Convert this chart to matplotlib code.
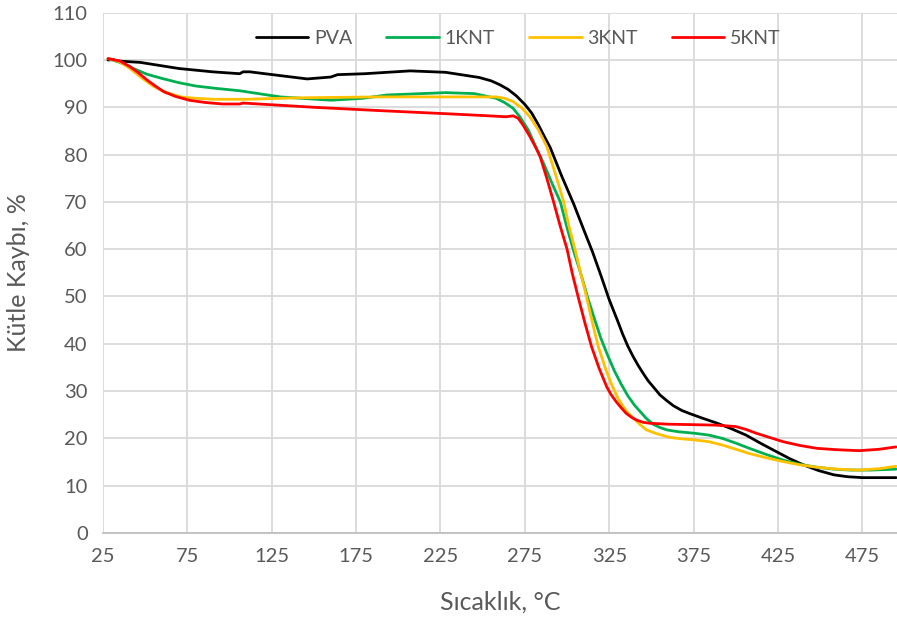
"""TGA curves of PVA and PVA/KNT films."""

import matplotlib.pyplot as plt

plt.rcParams["font.family"] = ["Lato", "DejaVu Sans"]

TEXT = "#595959"
GRID = "#D9D9D9"

# PVA
pva_t = [28, 31, 33, 47, 70, 90, 106, 108, 112, 130, 146, 160, 164, 180, 207, 228,
         248, 255, 260, 265, 270, 275, 279, 283, 287, 290, 297, 304, 310, 315, 320,
         325, 330, 333, 336, 339, 342, 345, 348, 352, 355, 359, 363, 368, 373, 380,
         389, 397, 406, 415, 424, 432, 440, 449, 458, 466, 475, 495]
pva_m = [100.0, 100.1, 99.8, 99.5, 98.2, 97.5, 97.1, 97.5, 97.5, 96.7, 96.0, 96.4,
         96.9, 97.1, 97.7, 97.4, 96.3, 95.6, 94.8, 93.8, 92.4, 90.6, 88.8, 86.3, 83.5,
         81.5, 75.3, 69.5, 64.0, 59.5, 54.5, 49.3, 44.8, 42.0, 39.5, 37.4, 35.5, 33.8,
         32.2, 30.5, 29.2, 28.0, 26.9, 25.9, 25.2, 24.3, 23.2, 22.1, 20.7, 18.9, 17.2,
         15.7, 14.4, 13.2, 12.3, 11.9, 11.7, 11.7]

# 1KNT
k1_t = [28, 35, 43, 51, 60, 70, 80, 92, 106, 130, 160, 179, 193, 228, 245, 258, 263,
        268, 272, 277, 281, 286, 291, 296, 300, 304, 308, 312, 316, 320, 324, 328,
        332, 336, 340, 343, 347, 351, 355, 359, 366, 375, 384, 392, 400, 408, 418,
        428, 438, 448, 458, 468, 480, 495]
k1_m = [100.3, 99.5, 98.2, 97.0, 96.1, 95.2, 94.5, 94.0, 93.5, 92.2, 91.5, 91.9,
        92.6, 93.1, 92.9, 91.9, 91.0, 89.8, 88.0, 85.2, 82.0, 78.2, 74.0, 70.0, 64.5,
        59.5, 55.0, 50.0, 45.5, 41.2, 37.6, 34.3, 31.5, 29.0, 27.0, 25.8, 24.2, 23.0,
        22.3, 21.8, 21.4, 21.1, 20.7, 20.0, 19.0, 17.9, 16.6, 15.4, 14.5, 13.9, 13.5,
        13.3, 13.3, 13.5]

# 3KNT
k3_t = [28, 35, 41, 48, 55, 62, 71, 80, 90, 110, 140, 189, 225, 258, 263, 268, 273,
        278, 283, 288, 293, 298, 301, 305, 308, 311.5, 315, 318.5, 323, 327, 330,
        333, 336, 339, 343, 347, 353, 361, 368, 375, 384, 392, 400, 408, 418, 428,
        438, 448, 460, 473, 485, 495]
k3_m = [100.3, 99.6, 98.2, 96.2, 94.4, 93.2, 92.2, 91.9, 91.7, 91.7, 92.0, 92.2,
        92.2, 92.2, 91.9, 91.2, 89.9, 88.0, 85.2, 81.7, 76.0, 70.0, 65.0, 59.5, 55.0,
        50.0, 44.5, 39.4, 34.5, 30.9, 28.6, 26.8, 25.4, 24.4, 23.0, 21.8, 21.0, 20.2,
        19.9, 19.7, 19.3, 18.6, 17.7, 16.8, 15.9, 15.1, 14.4, 13.9, 13.5, 13.3, 13.6,
        14.1]

# 5KNT
k5_t = [28, 35, 41, 46, 51, 56, 61, 68, 76, 86, 96, 106, 108, 150, 189, 225, 248,
        264, 268, 271, 274, 278, 281, 284, 288, 292, 296, 300, 303, 306.5, 310.5,
        314.5, 319, 323.5, 326, 329, 332, 335, 338, 341, 345, 349, 360, 375, 388,
        400, 406, 412, 420, 428, 438, 448, 460, 473, 485, 495]
k5_m = [100.3, 99.8, 98.6, 97.3, 95.8, 94.5, 93.3, 92.3, 91.5, 91.0, 90.7, 90.7,
        90.9, 90.0, 89.3, 88.7, 88.3, 88.0, 88.2, 87.7, 86.2, 83.8, 81.8, 79.6, 75.0,
        70.0, 64.8, 60.0, 55.0, 50.0, 44.5, 39.4, 34.8, 30.9, 29.3, 27.8, 26.5, 25.3,
        24.5, 23.9, 23.4, 23.2, 23.0, 22.9, 22.8, 22.5, 21.9, 21.1, 20.2, 19.3, 18.5,
        17.9, 17.6, 17.4, 17.7, 18.2]

SERIES = [
    ("PVA", pva_t, pva_m, "#000000"),
    ("1KNT", k1_t, k1_m, "#00B050"),
    ("3KNT", k3_t, k3_m, "#FFC000"),
    ("5KNT", k5_t, k5_m, "#FF0000"),
]

x_ticks = [25, 75, 125, 175, 225, 275, 325, 375, 425, 475]
y_ticks = list(range(0, 111, 10))

fig = plt.figure(figsize=(8.97, 6.26), dpi=100)
ax = fig.add_axes([0.1148, 0.1486, 0.8852, 0.8311])

for label, t, m, color in SERIES:
    ax.plot(t, m, color=color, linewidth=2.0, label=label,
            solid_capstyle="round", solid_joinstyle="round")

ax.set_xlim(25, 495.5)
ax.set_ylim(0, 110)
ax.set_xticks(x_ticks)
ax.set_yticks(y_ticks)
ax.grid(True, color=GRID, linewidth=1.3)
ax.set_axisbelow(True)
for side in ["top", "right", "left"]:
    ax.spines[side].set_visible(False)
ax.spines["bottom"].set_color("#BFBFBF")
ax.spines["bottom"].set_linewidth(1.3)
ax.tick_params(length=0, labelsize=14.5, labelcolor=TEXT, pad=11)

ax.set_xlabel("Sıcaklık, °C", fontsize=18, color=TEXT, labelpad=18)
ax.set_ylabel("Kütle Kaybı, %", fontsize=18, color=TEXT, labelpad=16)

leg = ax.legend(loc="center", bbox_to_anchor=(0.523, 0.951), ncol=4, frameon=False,
                fontsize=14, handlelength=2.7, handletextpad=0.3, columnspacing=1.75)
for txt in leg.get_texts():
    txt.set_color(TEXT)

fig.savefig("out.png", dpi=100)
